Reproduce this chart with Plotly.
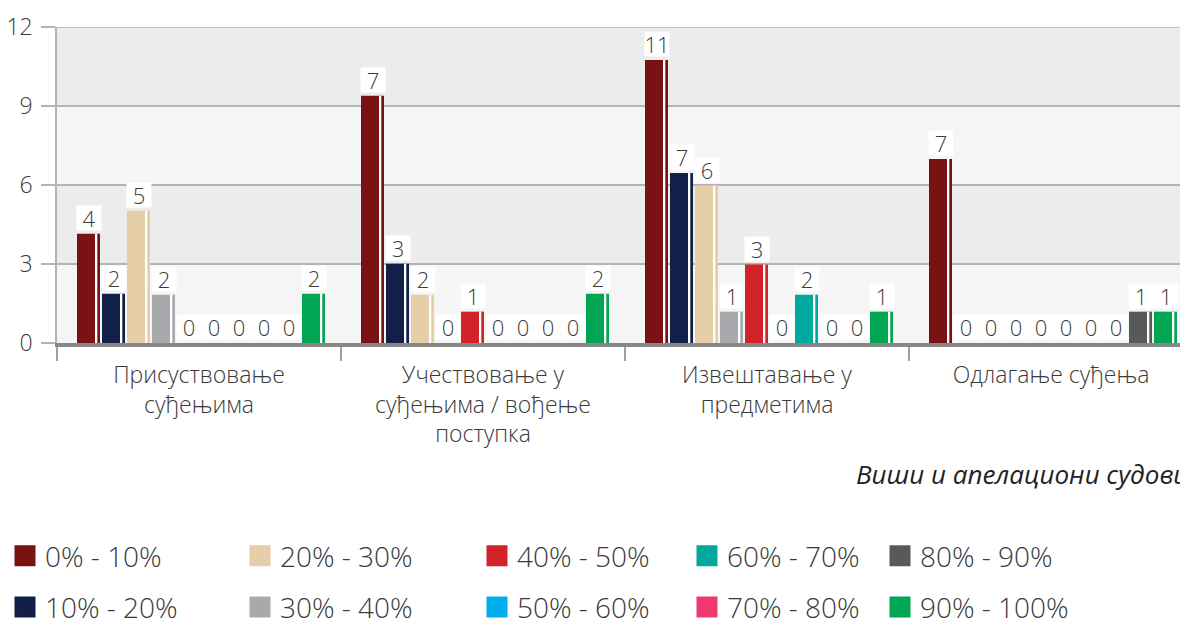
import plotly.graph_objects as go

# ---------------- data ----------------
categories = [
    "Присуствовање<br>суђењима",
    "Учествовање у<br>суђењима / вођење<br>поступка",
    "Извештавање у<br>предметима",
    "Одлагање суђења",
]
series_names = ["0% - 10%", "10% - 20%", "20% - 30%", "30% - 40%", "40% - 50%",
                "50% - 60%", "60% - 70%", "70% - 80%", "80% - 90%", "90% - 100%"]
colors = ["#7a1214", "#121f48", "#e5cea8", "#a7a9ac", "#d2232a",
          "#00aeef", "#00a99d", "#ee3a6e", "#58595b", "#00a651"]

# bar heights as drawn in the picture (per series, over the 4 categories)
h_0_10 = [4.15, 9.39, 10.75, 6.99]
h_10_20 = [1.87, 3.01, 6.46, 0]
h_20_30 = [5.02, 1.83, 5.98, 0]
h_30_40 = [1.83, 0, 1.19, 0]
h_40_50 = [0, 1.19, 2.98, 0]
h_50_60 = [0, 0, 0, 0]
h_60_70 = [0, 0, 1.83, 0]
h_70_80 = [0, 0, 0, 0]
h_80_90 = [0, 0, 0, 1.19]
h_90_100 = [1.87, 1.87, 1.19, 1.19]
heights = [h_0_10, h_10_20, h_20_30, h_30_40, h_40_50,
           h_50_60, h_60_70, h_70_80, h_80_90, h_90_100]

# data labels printed above the bars
l_0_10 = [4, 7, 11, 7]
l_10_20 = [2, 3, 7, 0]
l_20_30 = [5, 2, 6, 0]
l_30_40 = [2, 0, 1, 0]
l_40_50 = [0, 1, 3, 0]
l_50_60 = [0, 0, 0, 0]
l_60_70 = [0, 0, 2, 0]
l_70_80 = [0, 0, 0, 0]
l_80_90 = [0, 0, 0, 1]
l_90_100 = [2, 2, 1, 1]
labels = [l_0_10, l_10_20, l_20_30, l_30_40, l_40_50,
          l_50_60, l_60_70, l_70_80, l_80_90, l_90_100]

y_ticks = [0, 3, 6, 9, 12]
subtitle = "Виши и апелациони судови"

# ---------------- geometry / style ----------------
FONT = "Open Sans, Lato, DejaVu Sans, sans-serif"
TXT = "#3a3a3a"
GRID = "#b4b4b4"
GROUP_PX = 284.0
BAR_PX = 23.0
PITCH_PX = 25.0
LEAD_PX = 20.0
bw = BAR_PX / GROUP_PX
stripe_w = 1.6 / GROUP_PX
stripe_off = 18.7 / GROUP_PX

# page has an 8px body margin: work in page pixels, convert to figure pixels
PAGE_OFF = 8
FIG_W, FIG_H = 1188 - PAGE_OFF, 621 - PAGE_OFF
P_LEFT, P_RIGHT, P_TOP, P_BOTTOM = 57, 1185, 27, 343  # plot area in page pixels
plot_w = P_RIGHT - P_LEFT
plot_h = P_BOTTOM - P_TOP
L = P_LEFT - PAGE_OFF
T = P_TOP - PAGE_OFF
R = FIG_W - (P_RIGHT - PAGE_OFF)
B = FIG_H - (P_BOTTOM - PAGE_OFF)


def px_x(px):
    return (px - P_LEFT) / plot_w


def px_y(py):
    return (P_BOTTOM - py) / plot_h


xs = list(range(len(categories)))

fig = go.Figure()
annotations = []
for j, name in enumerate(series_names):
    off = (-GROUP_PX / 2 + LEAD_PX + PITCH_PX * j) / GROUP_PX
    fig.add_trace(go.Bar(
        x=xs, y=heights[j], offset=off, width=bw,
        marker=dict(color=colors[j], line=dict(width=0)),
        showlegend=False, hoverinfo="skip", name=name,
    ))
    fig.add_trace(go.Bar(
        x=xs, y=heights[j], offset=off + stripe_off, width=stripe_w,
        marker=dict(color="white", line=dict(width=0)),
        showlegend=False, hoverinfo="skip",
    ))
    for i in xs:
        annotations.append(dict(
            x=i + off + bw / 2, y=heights[j][i], xref="x", yref="y",
            text=str(labels[j][i]), showarrow=False, yanchor="bottom",
            xanchor="center", yshift=3, bgcolor="white", width=22, height=22,
            borderpad=1, font=dict(family=FONT, size=22, color=TXT, weight=300),
        ))

# legend entries (two rows, five columns)
col_x_px = [15, 250, 487, 697, 890]
for j, name in enumerate(series_names):
    col = j // 2
    leg = "legend" if col == 0 else f"legend{col + 1}"
    fig.add_trace(go.Scatter(
        x=[None], y=[None], mode="markers", name=name,
        marker=dict(symbol="square", size=23, color=colors[j],
                    line=dict(width=6, color=colors[j])),
        legend=leg, legendgroup=name, showlegend=True,
    ))

annotations.append(dict(
    x=px_x(854), y=px_y(474), xref="paper", yref="paper", xanchor="left",
    yanchor="middle", text=subtitle, showarrow=False,
    font=dict(family=FONT, size=26, color="#222", style="italic"),
))

# background bands + top border line
shapes = []
for k in range(len(y_ticks) - 1):
    if k % 2 == 1:
        shapes.append(dict(type="rect", xref="paper", yref="y", x0=0, x1=1,
                           y0=y_ticks[k], y1=y_ticks[k + 1], fillcolor="#ececec",
                           line=dict(width=0), layer="below"))
shapes.append(dict(type="line", xref="paper", yref="y", x0=0, x1=1,
                   y0=y_ticks[-1], y1=y_ticks[-1], line=dict(color=GRID, width=1.5)))

legend_common = dict(orientation="v", xanchor="left", yanchor="top",
                     font=dict(family=FONT, size=28, color=TXT, weight=300),
                     bgcolor="rgba(0,0,0,0)", tracegroupgap=12, itemclick=False)
legends = {}
for c, px in enumerate(col_x_px):
    key = "legend" if c == 0 else f"legend{c + 1}"
    legends[key] = dict(legend_common, x=px_x(px - 10), y=px_y(531))

fig.update_layout(
    width=FIG_W, height=FIG_H, autosize=False,
    margin=dict(l=L, r=R, t=T, b=B, autoexpand=False),
    barmode="overlay",
    paper_bgcolor="white", plot_bgcolor="#f5f5f5",
    font=dict(family=FONT, color=TXT),
    xaxis=dict(
        range=[-0.5, plot_w / GROUP_PX - 0.5], tickmode="array",
        tickvals=xs, ticktext=categories, ticks="", showgrid=False, zeroline=False,
        showline=True, linewidth=4, linecolor="#878787", automargin=False,
        tickfont=dict(family=FONT, size=23, color=TXT, weight=300),
        ticklabelstandoff=8,
        minor=dict(tickmode="array", tickvals=[i - 0.5 for i in range(len(categories) + 1)],
                   ticks="outside", ticklen=14, tickwidth=1.5, tickcolor="#a0a0a0",
                   showgrid=False),
    ),
    yaxis=dict(
        range=[0, 12], tickmode="array", tickvals=y_ticks, ticks="outside",
        ticklen=14, tickwidth=1.5, tickcolor=GRID, automargin=False,
        showgrid=True, gridcolor=GRID, gridwidth=1.5, zeroline=False,
        showline=True, mirror=True, linewidth=1.5, linecolor=GRID,
        tickfont=dict(family=FONT, size=23, color=TXT, weight=300),
        ticklabelstandoff=4,
    ),
    shapes=shapes,
    annotations=annotations,
    **legends,
)

fig.write_html("out.html")
